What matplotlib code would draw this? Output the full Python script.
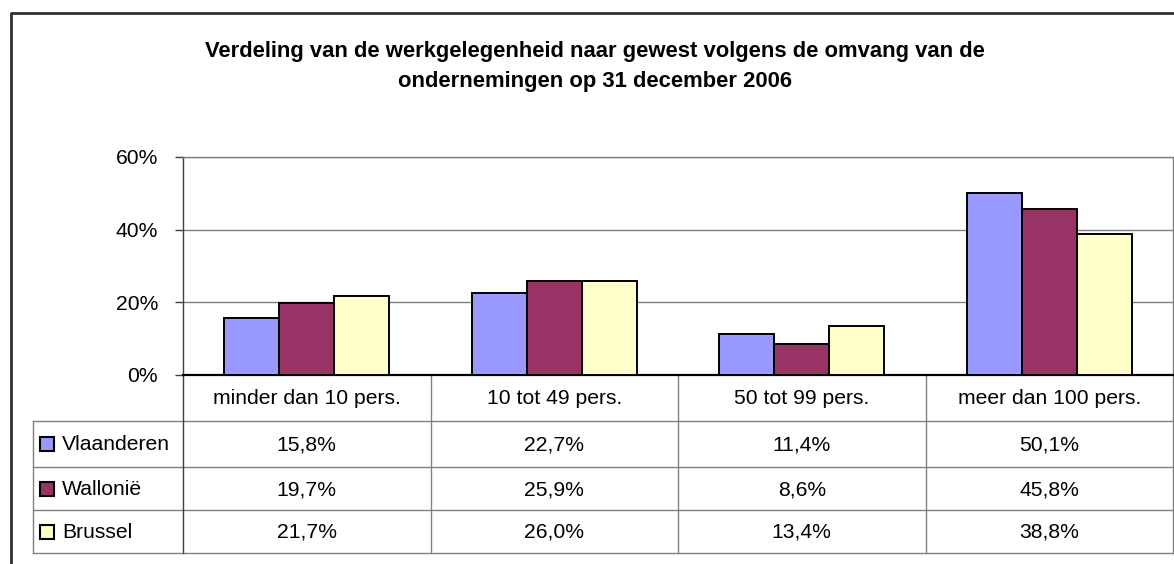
import numpy as np
import matplotlib.pyplot as plt
from matplotlib.patches import Rectangle

plt.rcParams['font.family'] = ['Liberation Sans', 'DejaVu Sans']

# Data
categories = ['minder dan 10 pers.', '10 tot 49 pers.', '50 tot 99 pers.', 'meer dan 100 pers.']
regions = ['Vlaanderen', 'Wallonië', 'Brussel']
vlaanderen = [15.8, 22.7, 11.4, 50.1]
wallonie = [19.7, 25.9, 8.6, 45.8]
brussel = [21.7, 26.0, 13.4, 38.8]
colors = ['#9999FF', '#993366', '#FFFFCC']
title = 'Verdeling van de werkgelegenheid naar gewest volgens de omvang van de\nondernemingen op 31 december 2006'

series = [vlaanderen, wallonie, brussel]

W, H = 1174, 564
fig = plt.figure(figsize=(W / 100, H / 100), dpi=100)

# plot area in pixels
px_left, px_right, px_top, px_bot = 183, 1173, 157, 375
ax = fig.add_axes([px_left / W, (H - px_bot) / H, (px_right - px_left) / W, (px_bot - px_top) / H])

fs = 15.2
x = np.arange(len(categories))
bw = 0.222
for i, (vals, col) in enumerate(zip(series, colors)):
    ax.bar(x + (i - 1) * bw, np.array(vals) / 100, bw, color=col, edgecolor='black',
           linewidth=1.4, zorder=3)

ax.set_xlim(-0.5, len(categories) - 0.5)
ax.set_ylim(0, 0.6)
ax.set_yticks([0, 0.2, 0.4, 0.6])
ax.set_yticklabels(['0%', '20%', '40%', '60%'], fontsize=fs)
ax.set_xticks([])
ax.tick_params(axis='y', length=6, width=1, color='#404040', pad=12)
ax.yaxis.grid(True, color='#808080', linewidth=1, zorder=0)
for s in ['top', 'right']:
    ax.spines[s].set_color('#808080')
    ax.spines[s].set_linewidth(1)
ax.spines['left'].set_color('#404040')
ax.spines['left'].set_linewidth(1)
ax.spines['bottom'].set_color('black')
ax.spines['bottom'].set_linewidth(1.6)

# overlay in pixel coordinates for table and frame
ov = fig.add_axes([0, 0, 1, 1], zorder=-1)
ov.set_xlim(0, W)
ov.set_ylim(H, 0)
ov.axis('off')

# chart frame
ov.plot([11, 11, W], [H, 13, 13], color='#303030', linewidth=2)

# title
ov.text(595, 51, title.split('\n')[0], ha='center', va='center', fontsize=15.8, fontweight='bold')
ov.text(595, 81, title.split('\n')[1], ha='center', va='center', fontsize=15.8, fontweight='bold')

# data table
tbl_left = 33
row_y = [375, 421, 467, 510, 553]
col_w = (px_right - px_left) / len(categories)
col_x = [px_left + k * col_w for k in range(len(categories) + 1)]
tc = '#808080'
for y in row_y[1:]:
    ov.plot([tbl_left, px_right], [y, y], color=tc, linewidth=1)
ov.plot([tbl_left, tbl_left], [row_y[1], row_y[-1]], color=tc, linewidth=1)
ov.plot([px_left, px_left], [px_bot, row_y[-1]], color='#404040', linewidth=1)
for cx in col_x[1:]:
    ov.plot([cx, cx], [px_bot, row_y[-1]], color=tc, linewidth=1)

for j, cat in enumerate(categories):
    ov.text(col_x[j] + col_w / 2, (row_y[0] + row_y[1]) / 2 + 1, cat, ha='center', va='center',
            fontsize=fs)

for i, (name, vals, col) in enumerate(zip(regions, series, colors)):
    yc = (row_y[i + 1] + row_y[i + 2]) / 2
    ov.add_patch(Rectangle((40, yc - 7), 14, 14, facecolor=col, edgecolor='black', linewidth=1.5))
    ov.text(62, yc + 1, name, ha='left', va='center', fontsize=fs)
    for j, v in enumerate(vals):
        ov.text(col_x[j] + col_w / 2, yc + 1, f'{v:.1f}%'.replace('.', ','), ha='center',
                va='center', fontsize=fs)

fig.savefig('out.png', dpi=100)
